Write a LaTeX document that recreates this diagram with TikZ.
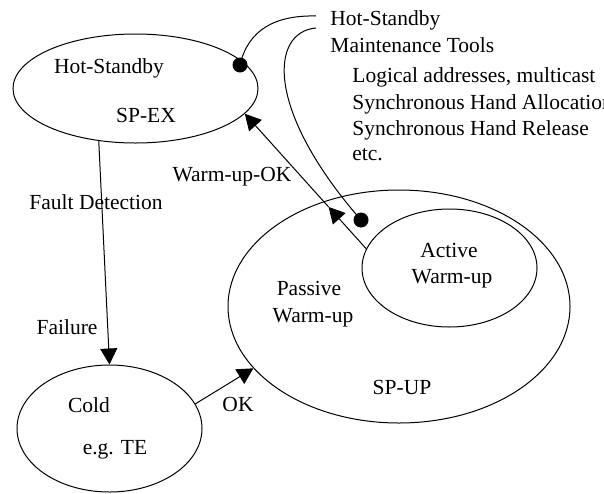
\documentclass[tikz,border=0pt]{standalone}
\usepackage{fontspec}
\setmainfont{Liberation Serif}
\usetikzlibrary{shapes.geometric,arrows.meta,calc}
\begin{document}
\begin{tikzpicture}[x=0.5pt,y=-0.5pt,
  st/.style={draw,ellipse,inner sep=0pt,line width=0.5pt},
  txt/.style={inner sep=0pt,font=\fontsize{10.75}{13.25}\selectfont},
  lbl/.style={txt,anchor=base},
  lblw/.style={txt,anchor=base west},
  conn/.style={line width=0.5pt},
  tri/.style={-{Triangle[length=8pt,width=8.5pt]}},
  blob/.style={circle,fill,inner sep=0pt,minimum size=7.5pt}]
\useasboundingbox (0,0) rectangle (604,493);
% states
\node[st,minimum width=122.5pt,minimum height=54.5pt] (hs) at (135.5,88.5) {};
\node[st,minimum width=92.5pt,minimum height=63.5pt] (cold) at (109.5,428.5) {};
\node[st,minimum width=171pt,minimum height=116.5pt] (spup) at (399,306.5) {};
\node[st,minimum width=87.5pt,minimum height=59pt] (aw) at (449.5,268) {};
% state texts
\node[lbl] (hst) at (109,73) {Hot-Standby};
\node[lbl] (spex) at (146,122) {SP-EX};
\node[lbl] (coldt) at (89,412) {Cold};
\node[lbl] (egte) at (115,454) {e.g. TE};
\node[lbl] (act1) at (449,257) {Active};
\node[lbl] (act2) at (452,283) {Warm-up};
\node[lbl] (pas1) at (309,295) {Passive};
\node[lbl] (pas2) at (313,322) {Warm-up};
\node[lbl] (spupt) at (402,394) {SP-UP};
% transition labels
\node[lbl] (wok) at (232,181) {Warm-up-OK};
\node[lbl] (fd) at (96,209) {Fault Detection};
\node[lbl] (fail) at (67,334) {Failure};
\node[lbl] (ok) at (238,411) {OK};
% maintenance tools
\node[lblw] (mt1) at (330,25) {Hot-Standby};
\node[lblw] (mt2) at (330,52) {Maintenance Tools};
\node[lblw] (l1) at (352,82) {Logical addresses, multicast};
\node[lblw] (l2) at (352,109) {Synchronous Hand Allocation};
\node[lblw] (l3) at (352,135) {Synchronous Hand Release};
\node[lblw] (l4) at (352,160) {etc.};
% transitions
\draw[conn,tri] (hs.235) -- (cold.north);
\draw[conn,tri] (cold.16) -- (spup.203);
\coordinate (wm) at ($(aw.167)!0.31!(hs.347)$);
\draw[conn,tri] (aw.167) -- (wm);
\draw[conn,tri] (wm) -- (hs.347);
% maintenance tool links
\node[blob] (d1) at (240,65) {};
\node[blob] (d2) at (361,220) {};
\coordinate (m1) at (316,16);
\coordinate (m2) at (316,28);
\draw[conn] (d1.center) .. controls (248,30) and (275,15) .. (m1);
\draw[conn] (m2) .. controls (270,32) and (265,110) .. (d2.center);
\end{tikzpicture}
\end{document}
